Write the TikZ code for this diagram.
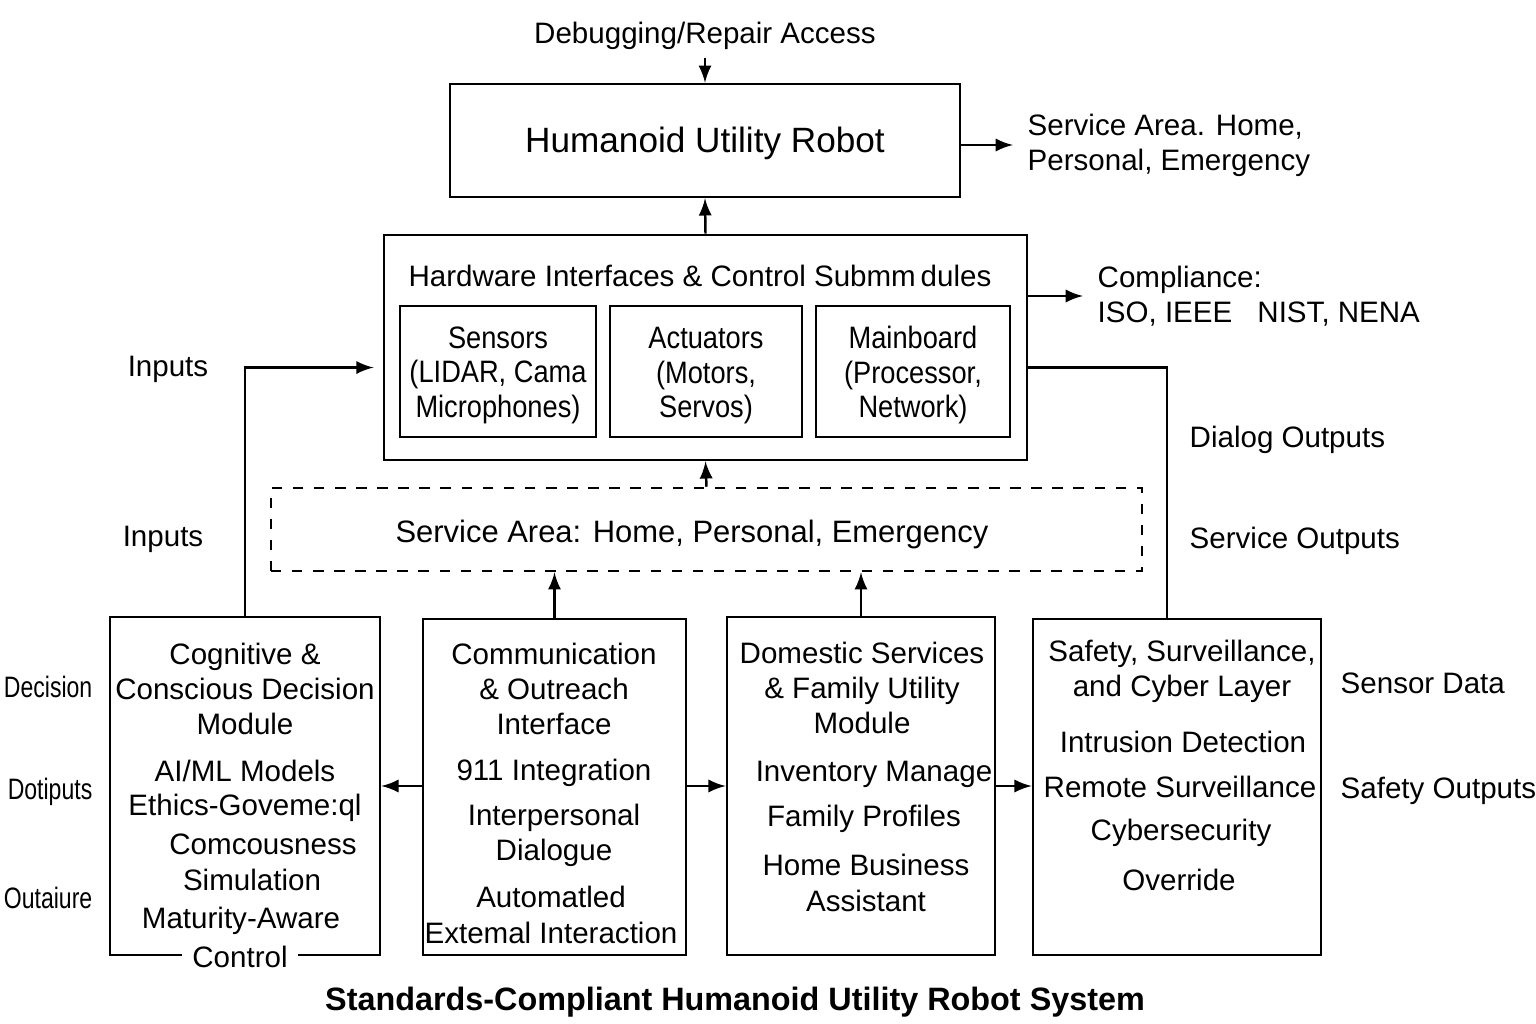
\documentclass[tikz,border=0pt]{standalone}
\usepackage{fontspec}
\setmainfont{Liberation Sans}
\newfontfamily\narrowfont[FakeStretch=0.88]{Liberation Sans}
\newfontfamily\edgefont[FakeStretch=0.78]{Liberation Sans}
\usepackage{tikz}
\usetikzlibrary{positioning}
\usetikzlibrary{shapes.geometric, arrows}
\tikzstyle{arrow} = [line width=0.7pt,->,>=latex]
\tikzstyle{wire} = [line width=0.7pt]
\tikzstyle{block} = [draw,line width=0.7pt,inner sep=0pt]
\tikzstyle{lbl} = [inner sep=0pt,align=center,font=\fontsize{8.4}{10}\selectfont]
\tikzstyle{sublbl} = [inner sep=0pt,align=center,font=\narrowfont\fontsize{8.8}{9.8}\selectfont]
\tikzstyle{edgelbl} = [inner sep=0pt,anchor=east,font=\edgefont\fontsize{8.4}{10}\selectfont]
\tikzstyle{lblw} = [lbl,anchor=west,align=left]

\begin{document}
\begin{tikzpicture}[x=0.01cm,y=-0.01cm]
	\clip (0,0) rectangle (1536,1024);
	\fill[white] (0,0) rectangle (1536,1024);

	%Nodes
	\node [lbl] (dbg) at (705,36) {Debugging/Repair Access};
	\node [block,minimum width=5.1cm,minimum height=1.13cm] (robot) at (705,140.5) {};
	\node [inner sep=0pt,font=\fontsize{10}{12}\selectfont] (robottext) at (705,143) {Humanoid Utility Robot};
	\node [lblw] (svc) at (1027,145) {Service Area. Home,\\Personal, Emergency};

	\node [block,minimum width=6.43cm,minimum height=2.25cm] (hw) at (705.5,347.5) {};
	\node [lbl] (hwtitle) at (700,276) {Hardware Interfaces \& Control Submm\,dules};
	\node [block,minimum width=1.96cm,minimum height=1.31cm] (sens) at (498,371.5) {};
	\node [block,minimum width=1.92cm,minimum height=1.31cm] (act) at (706,371.5) {};
	\node [block,minimum width=1.94cm,minimum height=1.31cm] (mainb) at (913,371.5) {};
	\node [sublbl] at (498,375) {Sensors\\(LIDAR, Cama\\Microphones)};
	\node [sublbl] at (706,376) {Actuators\\(Motors,\\Servos)};
	\node [sublbl] at (913,375) {Mainboard\\(Processor,\\Network)};
	\node [lblw] (comp) at (1097,296) {Compliance:\\ISO, IEEE\hspace{0.85em}NIST, NENA};

	\node [block,dashed,minimum width=8.71cm,minimum height=0.83cm] (area) at (706.5,529.5) {};
	\node [lbl] (areatext) at (692,534) {\fontsize{8.8}{10}\selectfont Service Area: Home, Personal, Emergency};

	\node [block,minimum width=2.70cm,minimum height=3.38cm] (cog) at (245,786) {};
	\node [block,minimum width=2.63cm,minimum height=3.36cm] (comm) at (554.5,787) {};
	\node [block,minimum width=2.68cm,minimum height=3.38cm] (dom) at (861,786) {};
	\node [block,minimum width=2.88cm,minimum height=3.36cm] (safe) at (1177,787) {};

	% module texts
	\node [lbl] at (245,689) {Cognitive \&\\Conscious Decision\\Module};
	\foreach \x/\y/\t in {245/771/{AI/ML Models}, 245/808/{Ethics-Goveme:ql}, 263/844/{Comcousness}, 252/880/{Simulation}, 241/921/{Maturity-Aware}}
		\node [lbl] at (\x,\y) {\t};
	\node [lbl,fill=white,inner xsep=0.1cm] (ctrl) at (240,957) {Control};

	\node [lbl] at (554,689) {Communication\\\& Outreach\\Interface};
	\node [lbl] at (554,773) {911 Integration};
	\node [lbl] at (554,835) {Interpersonal\\Dialogue};
	\node [lbl] at (551,915) {Automatled\\Extemal Interaction};

	\node [lbl] at (862,688) {Domestic Services\\\& Family Utility\\Module};
	\node [lbl] at (874,774) {Inventory Manage};
	\node [lbl] at (864,819) {Family Profiles};
	\node [lbl] at (866,883) {Home Business\\Assistant};

	\node [lbl] at (1182,671) {Safety, Surveillance,\\and Cyber Layer};
	\foreach \x/\y/\t in {1183/742/{Intrusion Detection}, 1180/787/{Remote Surveillance}, 1181/833/{Cybersecurity}, 1179/880/{Override}}
		\node [lbl] at (\x,\y) {\t};

	% side labels
	\node [lbl] (in1) at (168,369) {Inputs};
	\node [lbl] (in2) at (163,539) {Inputs};
	\node [lblw] (dlg) at (1189,440) {Dialog Outputs};
	\node [lblw] (svo) at (1189,541) {Service Outputs};
	\node [lblw] (sdata) at (1340,683) {Sensor Data};
	\node [lblw] (sfo) at (1340,791) {Safety Outputs};
	\node [edgelbl] (dec) at (93,687) {Decision};
	\node [edgelbl] (dot) at (93,792) {Dotiputs};
	\node [edgelbl] (out) at (93,898) {Outaiure};

	\node [inner sep=0pt,font=\fontsize{9.2}{11}\selectfont\bfseries] (title) at (735,1002) {Standards-Compliant Humanoid Utility Robot System};

	%Lines
	\draw[arrow,shorten <=2pt] (dbg.south) -- (robot.north);
	\draw[arrow,shorten >=4pt] (robot.east |- svc.west) -- (svc.west);
	\draw[arrow] (hw.north) -- (robot.south);
	\draw[arrow,shorten >=4pt] (hw.east |- comp.west) -- (comp.west);
	\draw[wire] ([yshift=-0.2cm]hw.east) -| ([xshift=-0.1cm]safe.north);
	\draw[arrow] (cog.north) |- ([xshift=-0.09cm,yshift=-0.2cm]hw.west);
	\draw[arrow] (area.north) -- (hw.south);
	\draw[arrow] (comm.north) -- (comm.north |- area.south);
	\draw[arrow] (dom.north) -- (dom.north |- area.south);
	\draw[arrow] (comm.west |- cog.east) -- (cog.east);
	\draw[arrow] (comm.east |- dom.west) -- (dom.west);
	\draw[arrow] (dom.east) -- (safe.west |- dom.east);
\end{tikzpicture}
\end{document}
